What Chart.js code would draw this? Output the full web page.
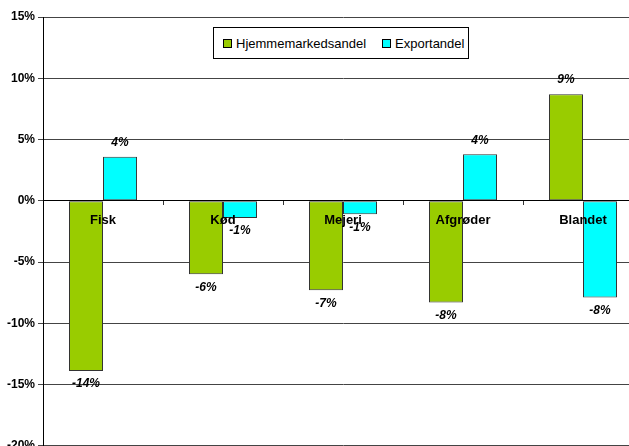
<!DOCTYPE html>
<html>
<head>
<meta charset="utf-8">
<script src="https://cdn.jsdelivr.net/npm/chart.js@4"></script>
<style>
  html, body { margin: 0; padding: 0; background: #fff; overflow: hidden; }
  #wrap { position: relative; width: 629px; height: 446px; overflow: hidden; }
  #legend {
    position: absolute; left: 213px; top: 27px; width: 254px; height: 30px;
    border: 1px solid #000; background: #fff;
    font: 13px "Liberation Sans", Arial, sans-serif; color: #000;
    display: flex; align-items: center;
  }
  #legend span.box { display: inline-block; width: 7px; height: 7px; border: 1px solid #000; margin-right: 4px; }
  #legend .item { display: flex; align-items: center; }
</style>
</head>
<body>
<div id="wrap">
  <canvas id="chart" width="660" height="456"></canvas>
  <div id="legend"></div>
</div>
<script>
const categories = ['Fisk', 'Kød', 'Mejeri', 'Afgrøder', 'Blandet'];
const hjemmeValues = [-13.9, -6.0, -7.3, -8.3, 8.7];
const exportValues = [3.6, -1.4, -1.1, 3.8, -7.9];
const seriesNames = ['Hjemmemarkedsandel', 'Exportandel'];
const seriesColors = ['#99CC00', '#00FFFF'];
const yMin = -20, yMax = 15, yStep = 5;

// legend box inside the plot
const legendEl = document.getElementById('legend');
seriesNames.forEach((name, i) => {
    const item = document.createElement('div');
    item.className = 'item';
    item.style.marginLeft = i === 0 ? '9px' : '16px';
    item.innerHTML = '<span class="box" style="background:' + seriesColors[i] + '"></span>' + name;
    legendEl.appendChild(item);
});

// category names on the zero line + value labels, drawn on top of the bars
const overlayLabels = {
    id: 'overlayLabels',
    afterDatasetsDraw(chart) {
        const ctx = chart.ctx;
        const xs = chart.scales.x, ys = chart.scales.y;
        ctx.save();
        ctx.fillStyle = '#000';
        ctx.textAlign = 'center';
        ctx.textBaseline = 'middle';

        ctx.font = 'bold 13px "Liberation Sans", Arial, sans-serif';
        const zeroY = ys.getPixelForValue(0);
        chart.data.labels.forEach((lab, i) => {
            ctx.fillText(lab, xs.getPixelForValue(i), zeroY + 20);
        });

        ctx.font = 'italic bold 12px "Liberation Sans", Arial, sans-serif';
        chart.data.datasets.forEach((ds, di) => {
            chart.getDatasetMeta(di).data.forEach((bar, i) => {
                const v = ds.data[i];
                const y = v >= 0 ? bar.y - 14 : bar.y + 13;
                ctx.fillText(Math.round(v) + '%', bar.x, y);
            });
        });
        ctx.restore();
    }
};

const ctx = document.getElementById('chart').getContext('2d');
new Chart(ctx, {
    type: 'bar',
    data: {
        labels: categories,
        datasets: [
            {
                label: seriesNames[0],
                data: hjemmeValues,
                backgroundColor: seriesColors[0],
                borderColor: '#333',
                borderWidth: 1,
                borderSkipped: false,
                categoryPercentage: 0.567,
                barPercentage: 1
            },
            {
                label: seriesNames[1],
                data: exportValues,
                backgroundColor: seriesColors[1],
                borderColor: '#333',
                borderWidth: 1,
                borderSkipped: false,
                categoryPercentage: 0.567,
                barPercentage: 1
            }
        ]
    },
    options: {
        responsive: false,
        animation: false,
        layout: { padding: { left: 4, right: 17, top: 17, bottom: 0 } },
        plugins: {
            legend: { display: false },
            tooltip: { enabled: false }
        },
        scales: {
            x: {
                position: { y: 0 },
                grid: { offset: true, drawOnChartArea: false, tickLength: 4, color: '#333' },
                border: { color: '#000' },
                ticks: { display: false }
            },
            y: {
                min: yMin,
                max: yMax,
                ticks: {
                    stepSize: yStep,
                    color: '#000',
                    padding: 3,
                    font: { family: '"Liberation Sans", Arial, sans-serif', size: 12, weight: 'bold' },
                    callback: v => v + '%'
                },
                grid: { color: '#444', tickLength: 5 },
                border: { color: '#000' }
            }
        }
    },
    plugins: [overlayLabels]
});
</script>
</body>
</html>
